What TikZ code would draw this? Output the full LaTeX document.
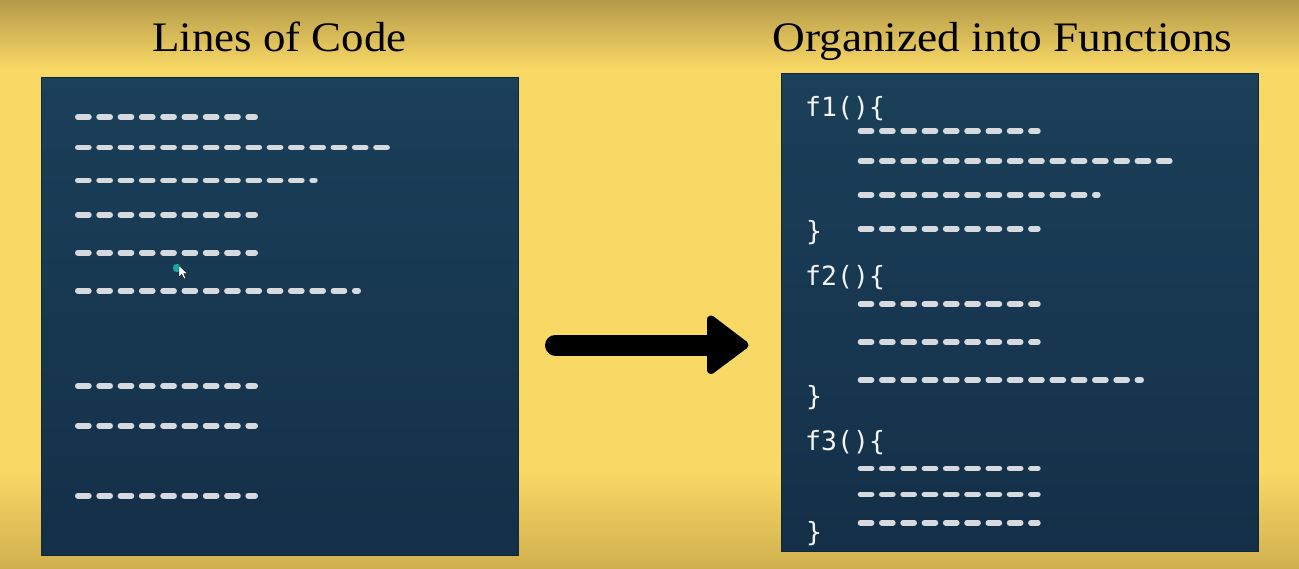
\documentclass[tikz,border=0pt]{standalone}
\usepackage{fontspec}
\setmainfont{Liberation Serif}
\newfontfamily\codefont{DejaVu Sans Mono}
\definecolor{bgyellow}{HTML}{F9D965}
\definecolor{bgtop}{HTML}{B49B4A}
\definecolor{bgbottom}{HTML}{D0B04E}
\definecolor{paneltop}{HTML}{1B405A}
\definecolor{panelbottom}{HTML}{142F48}
\definecolor{dashgray}{HTML}{D6D9DD}
\definecolor{codewhite}{HTML}{F4F4F4}
\definecolor{cursorteal}{HTML}{1AA6A2}
\newcommand\codedashes[3]{%
  \pgfmathsetmacro\dashcount{int(floor((#2-#1)/21.3))}%
  \foreach \i in {0,...,\dashcount}{%
    \pgfmathsetmacro\dasha{#1+21.3*\i}%
    \pgfmathsetmacro\dashb{min(\dasha+16.7,#2)}%
    \draw[codeline] (\dasha+2.8,#3) -- (\dashb-2.8,#3);
  }}
\begin{document}
\begin{tikzpicture}[x=1pt,y=-1pt,
  panel/.style={rectangle, inner sep=0pt, top color=paneltop, bottom color=panelbottom, draw=panelbottom!80!black, line width=0.8pt},
  title/.style={inner sep=0pt, anchor=base, font=\fontsize{42}{48}\selectfont, text=black},
  codetext/.style={inner sep=0pt, anchor=base west, font=\codefont\fontsize{26.5}{30}\selectfont, text=codewhite},
  codeline/.style={draw=dashgray, line width=5.6pt, line cap=round}]
\useasboundingbox (0,0) rectangle (1299,568);
% background
\fill[bgyellow] (0,0) rectangle (1299,568);
\shade[top color=bgtop, bottom color=bgyellow] (0,0) rectangle (1299,70);
\shade[top color=bgyellow, bottom color=bgbottom] (0,470) rectangle (1299,568);
% panels
\node[panel, minimum width=477pt, minimum height=478pt] (leftpanel) at (279.5,316) {};
\node[panel, minimum width=477pt, minimum height=478pt] (rightpanel) at (1019.5,312) {};
% titles
\node[title] (lefttitle) at (279.5,51.7) {\scalebox{1.07}[1]{Lines of Code}};
\node[title] (righttitle) at (1002.5,51.7) {\scalebox{1.08}[1]{Organized into Functions}};
% left code lines
\foreach \y/\e in {117/258, 147.3/390, 180.3/317.7, 214.7/258, 252.7/258, 290.7/361, 386/258, 425.7/258, 495.7/258}
  {\codedashes{75}{\e}{\y}}
% right code
\node[codetext] (f1) at (805,116.7) {f1()\{};
\node[codetext] (c1) at (806,240.5) {\}};
\node[codetext] (f2) at (805,285) {f2()\{};
\node[codetext] (c2) at (806,405.5) {\}};
\node[codetext] (f3) at (805,450.7) {f3()\{};
\node[codetext] (c3) at (806,541.5) {\}};
\foreach \y/\e in {131/1040.7, 161/1173.3, 194.7/1100.7, 228.7/1040.7, 304/1040.7, 342/1040.7, 380/1144, 468.3/1040.7, 494.3/1040.7, 522.7/1040.7}
  {\codedashes{857.7}{\e}{\y}}
% cursor
\fill[cursorteal] (177,268) circle (4.2);
\filldraw[fill=white, draw=black, line width=0.4pt] (179,265.5) -- (179,277) -- (181.8,274.3) -- (184,279) -- (185.8,278.2) -- (183.7,273.6) -- (187.3,273.4) -- cycle;
% arrow
\coordinate (arrowstart) at (555.5,345);
\coordinate (arrowend) at (712,345);
\draw[black, line width=21pt, line cap=round] (arrowstart) -- (arrowend);
\filldraw[black, line width=8pt, line join=round] (711,319.5) -- (744.5,345) -- (711,370) -- cycle;
\end{tikzpicture}
\end{document}
